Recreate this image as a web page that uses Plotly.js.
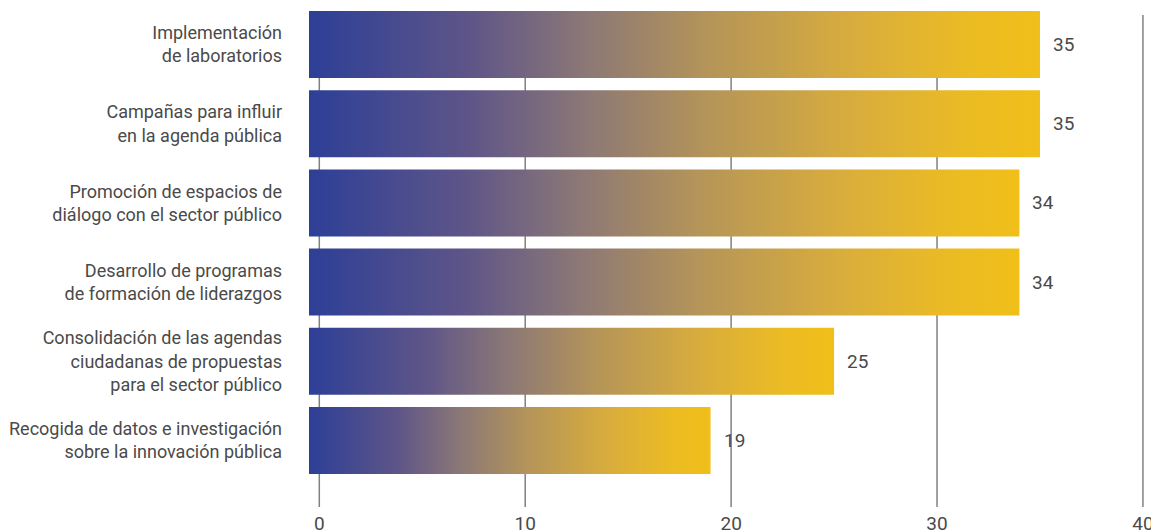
<!DOCTYPE html>
<html>
<head>
<meta charset="utf-8">
<script src="https://cdn.plot.ly/plotly-3.0.1.min.js"></script>
<style>html,body{margin:0;padding:0;background:#fff;}#chart{width:1151px;height:531px;}</style>
</head>
<body>
<div id="chart"></div>
<script>
const categories = [
  "Implementación<br>de laboratorios",
  "Campañas para influir<br>en la agenda pública",
  "Promoción de espacios de<br>diálogo con el sector público",
  "Desarrollo de programas<br>de formación de liderazgos",
  "Consolidación de las agendas<br>ciudadanas de propuestas<br>para el sector público",
  "Recogida de datos e investigación<br>sobre la innovación pública"
];
const values = [35, 35, 34, 34, 25, 19];
const xTicks = [0, 10, 20, 30, 40];

const barBase = -0.5;
const halfH = 0.423;
const gradient = [
  [0, '#2d3f97'], [0.22, '#5e5588'], [0.38, '#8c7876'], [0.55, '#b59558'],
  [0.75, '#d9ad3c'], [0.9, '#ebbb24'], [1, '#f0bf19']
];

const traces = values.map((v, i) => ({
  type: 'scatter', mode: 'lines',
  x: [barBase, v, v, barBase, barBase],
  y: [i - halfH, i - halfH, i + halfH, i + halfH, i - halfH],
  fill: 'toself',
  fillgradient: { type: 'horizontal', colorscale: gradient },
  line: { width: 0, color: 'rgba(0,0,0,0)' },
  hoverinfo: 'skip', showlegend: false
}));

const annotations = values.map((v, i) => ({
  x: v, y: i, xref: 'x', yref: 'y', text: String(v),
  showarrow: false, xanchor: 'left', yanchor: 'middle', xshift: 11,
  font: { family: 'Roboto', size: 19, color: '#4a4a4a' }
}));

const gridTop = (507 - 15) / (507 - 11);
const shapes = xTicks.map(t => ({
  type: 'line', layer: 'below', xref: 'x', yref: 'paper',
  x0: t, x1: t, y0: 0, y1: gridTop,
  line: { color: '#808080', width: 1.5 }
}));

const layout = {
  width: 1151, height: 531,
  margin: { l: 309, r: 6, t: 11, b: 24 },
  paper_bgcolor: '#fff', plot_bgcolor: '#fff',
  font: { family: 'Roboto', color: '#4a4a4a' },
  xaxis: {
    range: [-0.5, 40.1], tickvals: xTicks, ticktext: xTicks.map(String),
    showgrid: false, zeroline: false, showline: false, ticks: '',
    tickfont: { family: 'Roboto', size: 19, color: '#4a4a4a' },
    ticklabelstandoff: 3, ticklabeloverflow: 'allow', fixedrange: true
  },
  yaxis: {
    range: [5.84, -0.423], tickvals: categories.map((c, i) => i), ticktext: categories,
    showgrid: false, zeroline: false, showline: false, ticks: '',
    tickfont: { family: 'Roboto', size: 18, color: '#4a4a4a' },
    ticklabelstandoff: 26, fixedrange: true
  },
  shapes: shapes,
  annotations: annotations,
  showlegend: false
};

Plotly.newPlot('chart', traces, layout, { displayModeBar: false, staticPlot: true });
</script>
</body>
</html>
